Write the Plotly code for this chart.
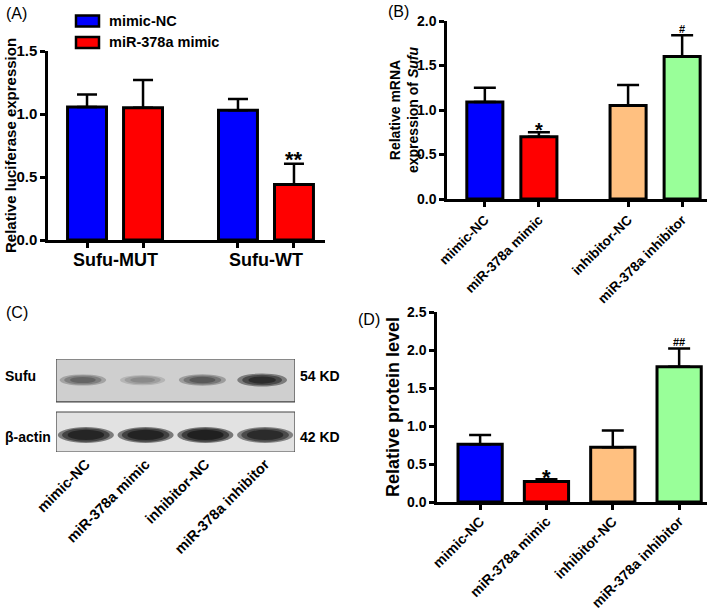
import plotly.graph_objects as go

W, H = 709, 612
FONT = "Liberation Sans, Arial, sans-serif"

# ---------------- data ----------------
# Panel A: luciferase reporter
a_groups = ["Sufu-MUT", "Sufu-WT"]
a_series = ["mimic-NC", "miR-378a mimic"]
a_mimic_nc = [1.055, 1.03]
a_mimic_nc_err = [0.10, 0.09]
a_mir378a = [1.05, 0.44]
a_mir378a_err = [0.22, 0.165]
a_sig = ["", "**"]

# Panels B / C / D: four transfection groups
groups = ["mimic-NC", "miR-378a mimic", "inhibitor-NC", "miR-378a inhibitor"]

# Panel B: relative mRNA expression of Sufu
b_vals = [1.09, 0.70, 1.05, 1.60]
b_err = [0.16, 0.05, 0.23, 0.24]
b_sig = ["", "*", "", "#"]

# Panel C: western blot band densities (0 = none, 1 = saturated)
c_rows = ["Sufu", "β-actin"]
c_sizes = ["54 KD", "42 KD"]
c_sufu_density = [0.50, 0.30, 0.58, 0.95]
c_actin_density = [0.90, 0.92, 0.95, 0.85]

# Panel D: relative protein level
d_vals = [0.76, 0.27, 0.72, 1.78]
d_err = [0.12, 0.03, 0.22, 0.24]
d_sig = ["", "*", "", "##"]

# ---------------- styles ----------------
COL = ["#0000FF", "#FF0000", "#FFC080", "#99FF99"]


def px(x):
    return x / W


def py(y):
    return 1 - y / H


def tick_bold(s):
    return dict(family=FONT, size=s, color="black", weight="bold")


def axis_style(**kw):
    d = dict(showline=True, linewidth=2.5, linecolor="black", ticks="outside",
             ticklen=5, tickwidth=2.5, tickcolor="black", showgrid=False,
             zeroline=False, mirror=False, automargin=False, tickfont=tick_bold(14))
    d.update(kw)
    return d


def errbar(err, width):
    return dict(type="data", array=err, arrayminus=[0] * len(err), symmetric=False,
                color="black", thickness=2.5, width=width)


def sig_note(x, y, s, xref, yref, size, yshift):
    return dict(x=x, y=y, xref=xref, yref=yref, text=s, showarrow=False,
                xanchor="center", yanchor="bottom", yshift=yshift,
                font=dict(family=FONT, size=size, color="black", weight="bold"))


fig = go.Figure()
annotations = []
shapes = []

# ---------------- Panel A ----------------
A_OFF, A_W = 0.1855, 0.258
a_pos = list(range(len(a_groups)))
a_x_nc = [g - A_OFF for g in a_pos]
a_x_mir = [g + A_OFF for g in a_pos]
fig.add_trace(go.Bar(x=a_x_nc, y=a_mimic_nc, width=A_W, name=a_series[0],
                     marker=dict(color=COL[0], line=dict(color="black", width=3)),
                     error_y=errbar(a_mimic_nc_err, 10), xaxis="x", yaxis="y"))
fig.add_trace(go.Bar(x=a_x_mir, y=a_mir378a, width=A_W, name=a_series[1],
                     marker=dict(color=COL[1], line=dict(color="black", width=3)),
                     error_y=errbar(a_mir378a_err, 10), xaxis="x", yaxis="y"))
for g, lab in zip(a_pos, a_groups):
    annotations.append(dict(x=g, y=py(260), xref="x", yref="paper", text=lab,
                            showarrow=False, xanchor="center", yanchor="middle",
                            font=dict(family=FONT, size=18, color="black", weight="bold")))
for x, v, e, s in zip(a_x_mir, a_mir378a, a_mir378a_err, a_sig):
    if s:
        annotations.append(sig_note(x, v + e, s, "x", "y", 22, -10))
# legend (drawn)
for i, (name, c) in enumerate(zip(a_series, COL[:2])):
    yc = 21 + i * 21.5
    shapes.append(dict(type="rect", xref="paper", yref="paper", x0=px(76), x1=px(99),
                       y0=py(yc - 5.5), y1=py(yc + 5.5), fillcolor=c,
                       line=dict(color="black", width=2.5)))
    annotations.append(dict(x=px(107), y=py(yc), xref="paper", yref="paper", text=name,
                            showarrow=False, xanchor="left", yanchor="middle",
                            font=dict(family=FONT, size=14.5, color="black", weight="bold")))
annotations.append(dict(x=px(10), y=py(146), xref="paper", yref="paper",
                        text="Relative luciferase expression", textangle=-90, showarrow=False,
                        xanchor="center", yanchor="middle",
                        font=dict(family=FONT, size=15, color="black", weight="bold")))

# ---------------- Panel B ----------------
B_GAP = 0.65
b_pos = [i + (B_GAP if i >= 2 else 0) for i in range(len(groups))]
fig.add_trace(go.Bar(x=b_pos, y=b_vals, width=0.667,
                     marker=dict(color=COL, line=dict(color="black", width=3)),
                     error_y=errbar(b_err, 11), xaxis="x2", yaxis="y2"))
for x, v, e, s in zip(b_pos, b_vals, b_err, b_sig):
    if s == "*":
        annotations.append(sig_note(x, v + e, s, "x2", "y2", 20, -11))
    elif s:
        annotations.append(sig_note(x, v + e, s, "x2", "y2", 11, -2))
annotations.append(dict(x=px(404), y=py(110), xref="paper", yref="paper",
                        text="Relative mRNA<br>expression of <i>Sufu</i>", textangle=-90,
                        showarrow=False, xanchor="center", yanchor="middle",
                        font=dict(family=FONT, size=14, color="black", weight="bold")))

# ---------------- Panel C (blot) ----------------
lane_x = [i + 0.5 for i in range(len(groups))]
SUFU_Y, ACTIN_Y = 0.774, 0.183
shapes.append(dict(type="rect", xref="x5", yref="y5", x0=0, x1=4, y0=0.538, y1=1.0,
                   fillcolor="#cfcfcf", line=dict(color="#444", width=1.2), layer="below"))
shapes.append(dict(type="rect", xref="x5", yref="y5", x0=0, x1=4, y0=0.0, y1=0.43,
                   fillcolor="#e2e2e2", line=dict(color="#444", width=1.2), layer="below"))
for cx, d in zip(lane_x, c_sufu_density):
    for sc in (1.0, 0.8, 0.55):
        hw, hh = 0.40 * sc * (0.9 + 0.15 * d), 0.06 * sc * (0.8 + 0.4 * d)
        shapes.append(dict(type="circle", xref="x5", yref="y5", x0=cx - 0.05 - hw,
                           x1=cx - 0.05 + hw, y0=SUFU_Y - hh, y1=SUFU_Y + hh,
                           fillcolor="black", opacity=0.42 * d, line=dict(width=0)))
for cx, d in zip(lane_x, c_actin_density):
    for sc in (1.0, 0.85, 0.65):
        hw, hh = 0.47 * sc, 0.085 * sc
        shapes.append(dict(type="circle", xref="x5", yref="y5", x0=cx - hw, x1=cx + hw,
                           y0=ACTIN_Y - hh, y1=ACTIN_Y + hh,
                           fillcolor="black", opacity=0.5 * d, line=dict(width=0)))
for row, size, yc in zip(c_rows, c_sizes, (376, 437)):
    annotations.append(dict(x=px(3), y=py(yc), xref="paper", yref="paper", text=row,
                            showarrow=False, xanchor="left", yanchor="middle",
                            font=dict(family=FONT, size=14, color="black", weight="bold")))
    annotations.append(dict(x=px(298), y=py(yc), xref="paper", yref="paper", text=size,
                            showarrow=False, xanchor="left", yanchor="middle",
                            font=dict(family=FONT, size=14, color="black", weight="bold")))
# invisible trace to hold the blot axes
fig.add_trace(go.Scatter(x=lane_x, y=[None] * 4, mode="markers", xaxis="x5", yaxis="y5",
                         hoverinfo="skip"))

# ---------------- Panel D ----------------
d_pos = list(range(len(groups)))
fig.add_trace(go.Bar(x=d_pos, y=d_vals, width=0.667,
                     marker=dict(color=COL, line=dict(color="black", width=3)),
                     error_y=errbar(d_err, 11), xaxis="x4", yaxis="y4"))
for x, v, e, s in zip(d_pos, d_vals, d_err, d_sig):
    if s == "*":
        annotations.append(sig_note(x, v + e, s, "x4", "y4", 22, -13))
    elif s:
        annotations.append(sig_note(x, v + e, s, "x4", "y4", 11, -2))
annotations.append(dict(x=px(393), y=py(407), xref="paper", yref="paper",
                        text="Relative protein level", textangle=-90, showarrow=False,
                        xanchor="center", yanchor="middle",
                        font=dict(family=FONT, size=18, color="black", weight="bold")))

# panel letters
for lab, x, y in (("(A)", 4, 3), ("(B)", 386, 1), ("(C)", 4, 302), ("(D)", 356, 309)):
    annotations.append(dict(x=px(x), y=py(y), xref="paper", yref="paper", text=lab,
                            showarrow=False, xanchor="left", yanchor="top",
                            font=dict(family=FONT, size=16, color="black")))

fig.update_layout(
    width=W, height=H, margin=dict(l=0, r=0, t=0, b=0, autoexpand=False),
    paper_bgcolor="white", plot_bgcolor="white", showlegend=False,
    barmode="overlay",
    xaxis=axis_style(domain=[px(48), px(325)], range=[-0.444, 1.391],
                     tickvals=a_x_nc + a_x_mir, ticktext=[""] * 4, anchor="y"),
    yaxis=axis_style(domain=[py(240), py(51)], range=[0, 1.5], tickvals=[0, 0.5, 1.0, 1.5],
                     tickformat=".1f", anchor="x", tickfont=tick_bold(15)),
    xaxis2=axis_style(domain=[px(447), px(707)], range=[-0.70, 4.11], tickvals=b_pos,
                      ticktext=groups, tickangle=-45, anchor="y2",
                      tickfont=tick_bold(13.5)),
    yaxis2=axis_style(domain=[py(199), py(21)], range=[0, 2.0],
                      tickvals=[0, 0.5, 1.0, 1.5, 2.0], tickformat=".1f", anchor="x2",
                      tickfont=tick_bold(14)),
    xaxis4=axis_style(domain=[px(437), px(707)], range=[-0.65, 3.42], tickvals=d_pos,
                      ticktext=groups, tickangle=-45, anchor="y4",
                      tickfont=tick_bold(14), ticklabelstandoff=-2),
    yaxis4=axis_style(domain=[py(502), py(312)], range=[0, 2.5],
                      tickvals=[0, 0.5, 1.0, 1.5, 2.0, 2.5], tickformat=".1f", anchor="x4",
                      tickfont=tick_bold(14)),
    xaxis5=dict(domain=[px(56), px(295)], range=[0, 4], showline=False, showgrid=False,
                zeroline=False, ticks="", tickvals=lane_x, ticktext=groups, tickangle=-45,
                anchor="y5", tickfont=tick_bold(14.5), automargin=False),
    yaxis5=dict(domain=[py(452), py(359)], range=[0, 1], showline=False, showgrid=False,
                zeroline=False, showticklabels=False, ticks="", anchor="x5", automargin=False),
    annotations=annotations, shapes=shapes,
)

fig.write_html("out.html", config={"displayModeBar": False},
               post_script="document.body.style.margin='0';")
